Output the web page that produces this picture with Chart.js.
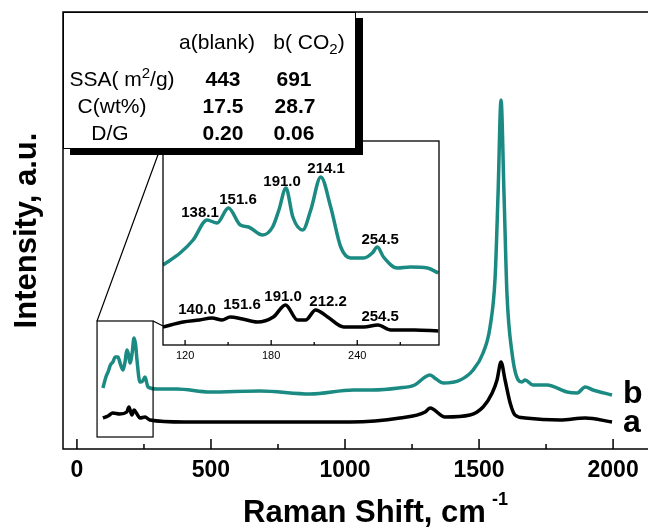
<!DOCTYPE html>
<html>
<head>
<meta charset="utf-8">
<script src="https://cdn.jsdelivr.net/npm/chart.js@4/dist/chart.umd.min.js"></script>
<style>
  html, body { margin: 0; padding: 0; background: #fff; }
  #wrap { position: relative; width: 648px; height: 531px; overflow: hidden; }
  #main { position: absolute; left: 0; top: 0; }
  #inset { position: absolute; left: 160px; top: 138px; }
  #tbl {
    position: absolute; left: 63px; top: 12px; width: 291px; height: 135px;
    border: 1px solid #000; background: #fff; box-shadow: 7px 6px 0 #000;
    font-family: "Liberation Sans", Arial, sans-serif; font-size: 21px; color: #000;
  }
  #tbl span { position: absolute; white-space: nowrap; line-height: 21px; transform: translateX(-50%); }
  #tbl .b { font-weight: bold; }
  #tbl sup, #tbl sub { font-size: 15px; line-height: 0; }
</style>
</head>
<body>
<div id="wrap">
  <canvas id="main" width="660" height="531"></canvas>
  <canvas id="inset" width="283" height="234"></canvas>
  <div id="tbl">
    <span style="left:153px;top:18px">a(blank)</span>
    <span style="left:245px;top:18px">b( CO<sub>2</sub>)</span>
    <span style="left:58px;top:55px">SSA( m<sup>2</sup>/g)</span>
    <span class="b" style="left:159px;top:55px">443</span>
    <span class="b" style="left:230px;top:55px">691</span>
    <span style="left:48px;top:82px">C(wt%)</span>
    <span class="b" style="left:159px;top:82px">17.5</span>
    <span class="b" style="left:231px;top:82px">28.7</span>
    <span style="left:46px;top:109px">D/G</span>
    <span class="b" style="left:159px;top:109px">0.20</span>
    <span class="b" style="left:230px;top:109px">0.06</span>
  </div>
</div>
<script>
// main spectrum, a = blank (black), b = CO2 (teal)
const ramanA = [97, 116, 134, 160, 186, 194, 205, 213, 224, 235,
  254, 272, 400, 600, 832, 1019, 1205, 1299, 1317, 1373,
  1466, 1515, 1549, 1567, 1582, 1597, 1616, 1634, 1672, 1802,
  1896, 1996];
const intensityA = [31, 33, 36, 35, 37, 42, 34, 39, 35, 31,
  32, 29, 27, 27, 27, 27, 31, 37, 41, 32,
  34, 42, 56, 69, 87, 69, 46, 34, 31, 29,
  31, 27];

const ramanB = [97, 108, 116, 125, 134, 143, 153, 162, 172, 180,
  186, 192, 198, 206, 213, 219, 224, 235, 245, 254,
  265, 298, 373, 496, 683, 870, 1031, 1100, 1200, 1260,
  1299, 1317, 1340, 1366, 1430, 1478, 1515, 1541, 1560, 1571,
  1582, 1593, 1604, 1623, 1646, 1660, 1672, 1701, 1754, 1828,
  1866, 1896, 1925, 1996];
const intensityB = [61, 72, 77, 84, 87, 92, 92, 85, 79, 88,
  99, 95, 86, 96, 111, 104, 89, 67, 68, 72,
  62, 60, 60, 57, 58, 55, 59, 59, 61, 64,
  72, 74, 70, 66, 69, 79, 96, 122, 172, 256,
  349, 256, 156, 96, 69, 67, 69, 64, 64, 57,
  56, 62, 59, 54];

// inset (low wavenumber region)
const insetRamanB = [104.6, 116.5, 125.6, 135.3, 142.3, 150.2, 158.5, 164.3, 174, 181,
  185.4, 190.3, 195.1, 202, 207.6, 214.6, 221.5, 228.5, 235.5, 244.6,
  250.5, 254, 258.3, 268, 277, 289, 296.5];
const insetIntB = [80, 92, 105, 125, 122, 137, 120, 118, 110, 118,
  135, 157, 128, 115, 135, 168, 138, 98, 87, 87,
  92, 98, 88, 77, 78, 77, 72];
const insetRamanA = [104.6, 118.6, 130, 138.8, 145.8, 151.4, 160, 170.3, 181.5, 190,
  198.4, 204, 211, 219.4, 230.6, 244.6, 254.4, 263.4, 280, 296.5];
const insetIntA = [18, 23, 25, 27, 25, 28, 26, 23, 28, 40,
  25, 25, 35, 28, 18, 18, 20, 15, 15, 14];

const peaksB = ['138.1', '151.6', '191.0', '214.1', '254.5'];
const peaksA = ['140.0', '151.6', '191.0', '212.2', '254.5'];

const xMajor = [0, 500, 1000, 1500, 2000];
const xMinor = [250, 750, 1250, 1750];
const insetMajor = [120, 180, 240];
const insetMinor = [150, 210, 270];

const TEAL = '#1a8a82';
const FONT = '"Liberation Sans", Arial, sans-serif';

// where things go
const peakPosB = [[130.4, 132], [156.9, 145], [187.6, 163], [218.3, 176], [256, 105]];
const peakPosA = [[128.3, 35], [159.7, 40], [188.3, 48], [219.7, 43], [256, 28]];
const zoomBox = [75, 284, 12, 128];

const pts = (xs, ys) => xs.map((v, i) => ({x: v, y: ys[i]}));

const mainDecor = {
  id: 'mainDecor',
  afterDraw(chart) {
    const {ctx, chartArea: a, scales: {x, y}} = chart;
    ctx.save();
    ctx.strokeStyle = '#000';
    ctx.lineWidth = 1.5;
    ctx.strokeRect(a.left, a.top, a.right - a.left, a.bottom - a.top);
    ctx.beginPath();
    xMajor.forEach(v => { const px = x.getPixelForValue(v); ctx.moveTo(px, a.bottom); ctx.lineTo(px, a.bottom - 10); });
    xMinor.forEach(v => { const px = x.getPixelForValue(v); ctx.moveTo(px, a.bottom); ctx.lineTo(px, a.bottom - 5); });
    ctx.stroke();

    // zoom box + connectors to the inset
    const bx0 = x.getPixelForValue(zoomBox[0]), bx1 = x.getPixelForValue(zoomBox[1]);
    const by0 = y.getPixelForValue(zoomBox[2]), by1 = y.getPixelForValue(zoomBox[3]);
    ctx.lineWidth = 1.2;
    ctx.strokeRect(bx0, by1, bx1 - bx0, by0 - by1);
    ctx.beginPath();
    ctx.moveTo(bx0, by1); ctx.lineTo(163, 141);
    ctx.moveTo(bx1, by1); ctx.lineTo(163, 326);
    ctx.stroke();

    ctx.fillStyle = '#000';
    ctx.font = 'bold 32px ' + FONT;
    ctx.textAlign = 'left';
    ctx.textBaseline = 'alphabetic';
    ctx.fillText('b', x.getPixelForValue(2037), y.getPixelForValue(46));
    ctx.fillText('a', x.getPixelForValue(2037), y.getPixelForValue(17));

    ctx.font = 'bold 31px ' + FONT;
    ctx.fillText('Raman Shift, cm', 243, 522);
    ctx.font = 'bold 18px ' + FONT;
    ctx.fillText('-1', 492, 505);
    ctx.restore();
  }
};

new Chart(document.getElementById('main'), {
  type: 'line',
  data: {
    datasets: [
      {data: pts(ramanB, intensityB), borderColor: TEAL, borderWidth: 3.5, pointRadius: 0, cubicInterpolationMode: 'monotone'},
      {data: pts(ramanA, intensityA), borderColor: '#000', borderWidth: 3.5, pointRadius: 0, cubicInterpolationMode: 'monotone'}
    ]
  },
  options: {
    responsive: false,
    animation: false,
    layout: {padding: {top: 12, left: 0, right: 0, bottom: 0}},
    plugins: {legend: {display: false}, tooltip: {enabled: false}},
    scales: {
      x: {
        type: 'linear', min: -52, max: 2175,
        afterBuildTicks: s => { s.ticks = xMajor.map(v => ({value: v})); },
        afterFit: s => { s.height = 82; },
        grid: {display: false}, border: {display: false},
        ticks: {color: '#000', padding: 0, font: {family: FONT, size: 23, weight: 'bold'}, callback: v => String(v), maxRotation: 0}
      },
      y: {
        min: 0, max: 437,
        afterFit: s => { s.width = 63; },
        grid: {display: false}, border: {display: false},
        ticks: {display: false},
        title: {display: true, text: 'Intensity, a.u.', color: '#000', padding: {top: 9, bottom: 0}, font: {family: FONT, size: 31, weight: 'bold'}}
      }
    }
  },
  plugins: [mainDecor]
});

const insetDecor = {
  id: 'insetDecor',
  beforeDraw(chart) {
    const {ctx, chartArea: a} = chart;
    ctx.save();
    ctx.fillStyle = '#fff';
    ctx.fillRect(a.left, a.top, a.right - a.left, a.bottom - a.top);
    ctx.restore();
  },
  afterDraw(chart) {
    const {ctx, chartArea: a, scales: {x, y}} = chart;
    ctx.save();
    ctx.strokeStyle = '#000';
    ctx.lineWidth = 1.3;
    ctx.strokeRect(a.left, a.top, a.right - a.left, a.bottom - a.top);
    ctx.beginPath();
    insetMajor.forEach(v => { const px = x.getPixelForValue(v); ctx.moveTo(px, a.bottom); ctx.lineTo(px, a.bottom - 5); });
    insetMinor.forEach(v => { const px = x.getPixelForValue(v); ctx.moveTo(px, a.bottom); ctx.lineTo(px, a.bottom - 3); });
    ctx.stroke();
    ctx.fillStyle = '#000';
    ctx.font = 'bold 15px ' + FONT;
    ctx.textAlign = 'center';
    ctx.textBaseline = 'middle';
    peaksB.forEach((t, i) => ctx.fillText(t, x.getPixelForValue(peakPosB[i][0]), y.getPixelForValue(peakPosB[i][1])));
    peaksA.forEach((t, i) => ctx.fillText(t, x.getPixelForValue(peakPosA[i][0]), y.getPixelForValue(peakPosA[i][1])));
    ctx.restore();
  }
};

new Chart(document.getElementById('inset'), {
  type: 'line',
  data: {
    datasets: [
      {data: pts(insetRamanB, insetIntB), borderColor: TEAL, borderWidth: 3.5, pointRadius: 0, cubicInterpolationMode: 'monotone'},
      {data: pts(insetRamanA, insetIntA), borderColor: '#000', borderWidth: 3.5, pointRadius: 0, cubicInterpolationMode: 'monotone'}
    ]
  },
  options: {
    responsive: false,
    animation: false,
    layout: {padding: {top: 3, left: 3, right: 4, bottom: 0}},
    plugins: {legend: {display: false}, tooltip: {enabled: false}},
    scales: {
      x: {
        type: 'linear', min: 104.6, max: 297,
        afterBuildTicks: s => { s.ticks = insetMajor.map(v => ({value: v})); },
        afterFit: s => { s.height = 27; },
        grid: {display: false}, border: {display: false},
        ticks: {color: '#000', padding: -4, font: {family: FONT, size: 11}, callback: v => String(v), maxRotation: 0}
      },
      y: {min: 0, max: 204, display: false}
    }
  },
  plugins: [insetDecor]
});
</script>
</body>
</html>
